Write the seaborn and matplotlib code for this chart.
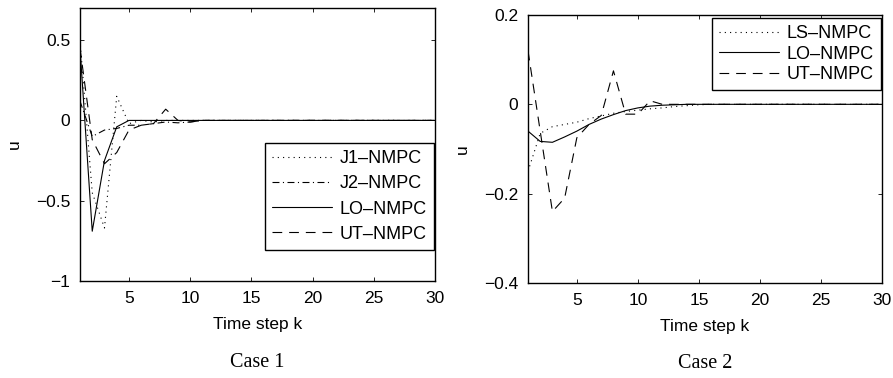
import numpy as np
import pandas as pd
import seaborn as sns
import matplotlib.pyplot as plt

# time steps
steps = list(range(1, 31))

# Case 1 control input u
case1_j1 = [0.50, -0.45, -0.67, 0.15, -0.02, 0.0, -0.01, 0.0, 0.0, 0.0] + [0.0] * 20
case1_j2 = [0.12, -0.10, -0.06, -0.05, -0.03, -0.03, -0.02, -0.01, -0.015, -0.01, 0.0] + [0.0] * 19
case1_lo = [0.45, -0.69, -0.25, -0.04, 0.0] + [0.0] * 25
case1_ut = [0.45, -0.12, -0.27, -0.20, -0.06, -0.03, -0.02, 0.07, 0.0, -0.01, 0.0] + [0.0] * 19

# Case 2 control input u
case2_ls = [-0.15, -0.065, -0.05, -0.045, -0.04, -0.032, -0.026, -0.02, -0.016, -0.013,
            -0.01, -0.008, -0.005, -0.003, -0.001] + [0.0] * 15
case2_lo = [-0.06, -0.083, -0.085, -0.073, -0.06, -0.045, -0.033, -0.023, -0.014, -0.008,
            -0.004, -0.002, -0.001] + [0.0] * 17
case2_ut = [0.12, -0.06, -0.24, -0.21, -0.075, -0.045, -0.025, 0.075, -0.022, -0.022,
            0.008, 0.0] + [0.0] * 18

case1_methods = ["J1\u2013NMPC", "J2\u2013NMPC", "LO\u2013NMPC", "UT\u2013NMPC"]
case2_methods = ["LS\u2013NMPC", "LO\u2013NMPC", "UT\u2013NMPC"]

xticks = [5, 10, 15, 20, 25, 30]
case1_yticks = [-1, -0.5, 0, 0.5]
case1_yticklabels = ["\u22121", "\u22120.5", "0", "0.5"]
case2_yticks = [-0.4, -0.2, 0, 0.2]
case2_yticklabels = ["\u22120.4", "\u22120.2", "0", "0.2"]

sns.set_style("ticks")
plt.rcParams['font.family'] = ['Liberation Sans', 'DejaVu Sans']
plt.rcParams['lines.scale_dashes'] = False
for key in ['text.color', 'axes.labelcolor', 'xtick.color', 'ytick.color', 'axes.edgecolor']:
    plt.rcParams[key] = 'black'

dotted = (0.8, 3.0)
dashdot = (5.0, 2.5, 0.8, 2.5)
dashed = (7.0, 5.0)
solid = ""


def long_form(series, names):
    frames = []
    for vals, name in zip(series, names):
        frames.append(pd.DataFrame({"step": steps, "u": vals, "method": name}))
    return pd.concat(frames, ignore_index=True)


df1 = long_form([case1_j1, case1_j2, case1_lo, case1_ut], case1_methods)
df2 = long_form([case2_ls, case2_lo, case2_ut], case2_methods)

fig = plt.figure(figsize=(8.93, 3.78), dpi=100)
ax1 = fig.add_axes([80 / 893, 1 - 281 / 378, 355 / 893, 273 / 378])
ax2 = fig.add_axes([528 / 893, 1 - 283 / 378, 354 / 893, 268 / 378])

sns.lineplot(data=df1, x="step", y="u", style="method", style_order=case1_methods,
             dashes={case1_methods[0]: dotted, case1_methods[1]: dashdot,
                     case1_methods[2]: solid, case1_methods[3]: dashed},
             color="k", linewidth=0.8, estimator=None, ax=ax1)
sns.lineplot(data=df2, x="step", y="u", style="method", style_order=case2_methods,
             dashes={case2_methods[0]: dotted, case2_methods[1]: solid,
                     case2_methods[2]: dashed},
             color="k", linewidth=0.8, estimator=None, ax=ax2)

legend_kws = dict(title=None, frameon=True, fancybox=False, framealpha=1,
                  edgecolor="k", fontsize=13, handlelength=3.3, handletextpad=0.4,
                  borderaxespad=0, borderpad=0.4)
sns.move_legend(ax1, "upper right", bbox_to_anchor=(0.996, 0.505),
                labelspacing=0.45, **legend_kws)
sns.move_legend(ax2, "upper right", bbox_to_anchor=(0.996, 0.99),
                labelspacing=0.2, **legend_kws)

for ax, yt, ytl, ylim, cap in [(ax1, case1_yticks, case1_yticklabels, (-1, 0.7), "Case 1"),
                               (ax2, case2_yticks, case2_yticklabels, (-0.4, 0.2), "Case 2")]:
    ax.set_xlim(1, 30)
    ax.set_ylim(*ylim)
    ax.set_xticks(xticks)
    ax.set_xticklabels([str(t) for t in xticks])
    ax.set_yticks(yt)
    ax.set_yticklabels(ytl)
    ax.tick_params(direction="in", top=True, right=True, length=3, width=0.6,
                   labelsize=12.5, pad=7)
    for sp in ax.spines.values():
        sp.set_visible(True)
        sp.set_linewidth(1.0)
        sp.set_color("k")
    ax.set_xlabel("Time step k", fontsize=12.5, labelpad=8)
    ax.set_ylabel("u", fontsize=12.5, labelpad=10)
    ax.get_legend().get_frame().set_linewidth(1.0)
    ax.text(0.5, -0.3, cap, transform=ax.transAxes, ha="center", va="center",
            fontsize=14.5, family=["Liberation Serif", "DejaVu Serif"])

fig.savefig("out.png", dpi=100)
